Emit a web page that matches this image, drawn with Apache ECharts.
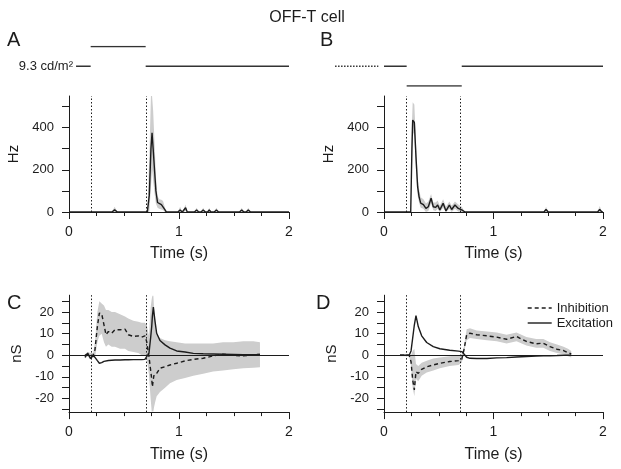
<!DOCTYPE html>
<html><head><meta charset="utf-8">
<script src="https://cdn.jsdelivr.net/npm/echarts@6/dist/echarts.min.js"></script>
<style>html,body{margin:0;padding:0;background:#fff}#c{width:621px;height:469px}</style>
</head><body><div id="c"></div>
<script>
// ---------- tick values ----------
const timeTicksMajor = [0, 1, 2];
const yTicksHz = [0, 100, 200, 300, 400, 500];
const yLabelsHz = [0, 200, 400];
const yTicksNS = [-25, -20, -15, -10, -5, 0, 5, 10, 15, 20, 25];
const yLabelsNS = [-20, -10, 0, 10, 20];
const stimMarks = [0.2, 0.7];

// ---------- Panel A: firing rate ----------
const tA =     [0, 0.39, 0.415, 0.44, 0.712, 0.73, 0.745, 0.755, 0.765, 0.78, 0.79, 0.805, 0.82, 0.84, 0.855, 0.87, 0.885, 0.99, 1.01, 1.03, 1.045, 1.06, 1.075, 1.14, 1.16, 1.18, 1.20, 1.22, 1.24, 1.26, 1.275, 1.29, 1.32, 1.34, 1.36, 1.55, 1.57, 1.59, 1.61, 1.63, 1.65, 2.0];
const rateA =  [0, 0, 10, 0, 0, 80, 300, 376, 300, 180, 100, 45, 38, 35, 30, 12, 0, 0, 10, 0, 5, 20, 0, 0, 10, 0, 0, 10, 0, 0, 10, 0, 0, 10, 0, 0, 10, 0, 0, 10, 0, 0];
const upperA = [0, 0, 25, 0, 0, 260, 550, 550, 480, 300, 170, 75, 60, 58, 52, 25, 0, 0, 25, 0, 15, 35, 0, 0, 20, 0, 0, 20, 0, 0, 20, 0, 0, 20, 0, 0, 20, 0, 0, 20, 0, 0];
const lowerA = [0, 0, 0, 0, 0, 0, 120, 200, 150, 80, 40, 20, 15, 12, 10, 0, 0, 0, 0, 0, 0, 5, 0, 0, 0, 0, 0, 0, 0, 0, 0, 0, 0, 0, 0, 0, 0, 0, 0, 0, 0, 0];

// ---------- Panel B: firing rate ----------
const tB =     [0, 0.244, 0.255, 0.262, 0.277, 0.292, 0.307, 0.32, 0.335, 0.36, 0.383, 0.405, 0.43, 0.45, 0.472, 0.49, 0.51, 0.54, 0.566, 0.597, 0.618, 0.648, 0.678, 0.71, 0.74, 1.46, 1.48, 1.50, 1.95, 1.97, 1.99, 2.0];
const rateB =  [0, 0, 300, 436, 425, 262, 120, 73, 42, 35, 17, 25, 65, 25, 22, 33, 10, 41, 5, 33, 12, 33, 17, 10, 0, 0, 12, 0, 0, 12, 0, 0];
const upperB = [0, 0, 420, 520, 510, 330, 170, 110, 70, 60, 40, 50, 85, 45, 45, 55, 30, 60, 25, 50, 30, 50, 35, 25, 0, 0, 25, 0, 0, 28, 0, 0];
const lowerB = [0, 0, 180, 380, 360, 200, 80, 45, 20, 15, 0, 5, 40, 8, 5, 15, 0, 20, 0, 15, 0, 15, 2, 0, 0, 0, 0, 0, 0, 0, 0, 0];

// ---------- Panel C: conductances ----------
const tC =   [0.145, 0.17, 0.195, 0.22, 0.236, 0.258, 0.276, 0.297, 0.318, 0.336, 0.358, 0.388, 0.418, 0.464, 0.509, 0.539, 0.585, 0.63, 0.66, 0.69, 0.706, 0.727, 0.742, 0.752, 0.758, 0.767, 0.773, 0.782, 0.797, 0.827, 0.873, 0.918, 0.979, 1.055, 1.13, 1.22, 1.31, 1.40, 1.494, 1.585, 1.676, 1.736];
const excC = [-1, 1, -1.5, 0, -1, -2.5, -3.7, -3.4, -2.8, -2.6, -2.4, -2.3, -2.2, -2.2, -2.1, -2.1, -2, -2, -2, -1.9, -1.9, 1, 8, 13.3, 18, 22.3, 19.5, 15.7, 10.2, 6.8, 4.8, 3.3, 2.0, 1.5, 0.9, 0.7, 0.6, 0.5, 0.4, 0.3, 0.3, 0.3];
const inhC = [0, 0.5, -0.5, 0, 2.5, 13.3, 19.5, 19.2, 14.1, 9.5, 11, 10.2, 11.8, 11.8, 12.1, 9.5, 8.7, 9, 8.4, 9, 6.4, -0.6, -6.8, -11, -14.6, -11, -9.1, -9, -8.4, -6, -5.3, -4.5, -3.7, -2.6, -1.9, -1.4, -0.3, 0.5, 0, -0.3, 0.2, 0.5];
const upC =  [0.5, 1.5, 1, 1, 6, 20, 25, 24, 23, 21, 21, 20, 20, 19, 18, 17, 16, 15.5, 15, 15, 14, 9, 22, 26, 27.5, 27.5, 22, 17, 10, 8, 7, 6.5, 6, 5.5, 5.5, 5.5, 5.5, 6, 6, 6.5, 6.5, 6];
const lowC = [-1.5, -0.5, -2, -1, -1, 6, 9, 10, 6, 4, 5, 4, 4, 3, 3, 2, 1.5, 1, 0, 0, -1, -9, -20, -26, -26, -26, -24, -22, -19, -17, -15, -13, -11.5, -10.5, -9.5, -8.5, -7.5, -7, -6.5, -6, -5.8, -5.6];

// ---------- Panel D: conductances ----------
const tD =   [0.146, 0.2, 0.23, 0.247, 0.262, 0.277, 0.292, 0.313, 0.344, 0.39, 0.45, 0.51, 0.6, 0.68, 0.71, 0.73, 0.755, 0.785, 0.846, 0.94, 1.03, 1.12, 1.21, 1.30, 1.39, 1.455, 1.516, 1.58, 1.64, 1.68, 1.71];
const excD = [0, 0, 0, 2, 8, 14, 18.3, 13.3, 9, 5.9, 4, 3, 2.3, 1.9, 1.7, 0.6, -0.9, -1.4, -1.5, -1.5, -1.2, -1.1, -0.8, -0.6, -0.4, -0.3, -0.2, -0.1, 0, 0, 0];
const inhD = [0, 0, 0, -3, -11.5, -16, -7.6, -8.4, -6.5, -5.3, -4.5, -3.7, -2.9, -2.5, -1.9, 2.5, 9.5, 10.2, 9.5, 9, 8.4, 7.4, 8.7, 6.4, 5.3, 5.6, 4, 2.8, 2.2, 1.2, 0.6];
const upD =  [0.5, 0.5, 0.5, 0, 2, 3, -4, -5, -3.5, -2.5, -1.5, -1, -0.5, 0, 0.5, 4, 12, 12.5, 11.5, 11, 10.5, 9.5, 10.5, 8.5, 7.5, 7.5, 6, 5, 4, 3, 2];
const lowD = [-0.5, -0.5, -0.5, -5, -15, -19, -11, -12, -9.5, -8, -7, -6, -5, -4.5, -3.5, 1, 7, 8, 7.5, 7, 6.5, 5.5, 6.5, 4.5, 3.5, 3.5, 2, 1, 0.5, -0.5, -1];

// ---------- Stimulus traces (level: 1 bright, 0 background, -1 dark) ----------
const stimAStart = [0.064, 0.197, 0.697];
const stimAEnd   = [0.197, 0.697, 2.0];
const stimALevel = [0, 1, 0];
const stimBStart = [0, 0.207, 0.71];
const stimBEnd   = [0.207, 0.71, 2.0];
const stimBLevel = [0, -1, 0];
const stimBPreStart = [-0.447];
const stimBPreEnd   = [-0.052];
const stimBPreLevel = [0];

// ---------- chart ----------
const FONT = '"Liberation Sans", Arial, sans-serif';
const INK = '#1c1c1c';
const BAND = '#cdcdcd';
const pairs = (t, v) => t.map((x, i) => [x, v[i]]);

const grids = [
  {left: 69, top: 96, width: 220, height: 116},
  {left: 384, top: 96, width: 219, height: 116},
  {left: 69, top: 295.2, width: 220, height: 116.9},
  {left: 384, top: 295.2, width: 219, height: 116.9},
  {left: 69, top: 46.5, width: 220, height: 39.5},
  {left: 329.25, top: 46.5, width: 273.75, height: 39.5}
];

function timeAxis(gi) {
  return {
    type: 'value', gridIndex: gi, min: 0, max: 2, interval: 1,
    name: 'Time (s)', nameLocation: 'middle', nameGap: 34,
    nameTextStyle: {fontFamily: FONT, fontSize: 16, color: INK},
    axisLine: {show: true, onZero: false, lineStyle: {color: INK, width: 1}},
    axisTick: {show: true, length: 7, lineStyle: {color: INK, width: 1}},
    minorTick: {show: true, splitNumber: 4, length: 4, lineStyle: {color: INK, width: 1}},
    axisLabel: {fontFamily: FONT, fontSize: 14, color: INK, margin: 13},
    splitLine: {show: false}, minorSplitLine: {show: false}
  };
}
function valAxis(gi, name, min, max, ticks, labels, gap) {
  return {
    type: 'value', gridIndex: gi, min: min, max: max,
    name: name, nameLocation: 'middle', nameGap: gap,
    nameTextStyle: {fontFamily: FONT, fontSize: 15, color: INK},
    axisLine: {show: true, onZero: false, lineStyle: {color: INK, width: 1}},
    axisTick: {show: true, length: 7, customValues: ticks, lineStyle: {color: INK, width: 1}},
    axisLabel: {fontFamily: FONT, fontSize: 13, color: INK, margin: 15, customValues: labels},
    splitLine: {show: false}
  };
}
function hiddenAxis(gi, min, max) {
  return {type: 'value', gridIndex: gi, min: min, max: max, show: false,
    axisLine: {show: false}, axisTick: {show: false}, axisLabel: {show: false}, splitLine: {show: false}};
}
function bandSeries(gi, t, up, lo) {
  return {
    type: 'custom', xAxisIndex: gi, yAxisIndex: gi, silent: true, z: 1,
    data: [[t[0], lo[0]]],
    renderItem: function (params, api) {
      const pts = [];
      for (let i = 0; i < t.length; i++) pts.push(api.coord([t[i], up[i]]));
      for (let i = t.length - 1; i >= 0; i--) pts.push(api.coord([t[i], lo[i]]));
      return {type: 'polygon', shape: {points: pts}, style: {fill: BAND, stroke: null}};
    }
  };
}
function markLines(withZero) {
  const d = stimMarks.map(v => ({xAxis: v}));
  if (withZero) d.push({yAxis: 0, lineStyle: {type: 'solid', width: 1, color: INK}});
  return {
    silent: true, symbol: ['none', 'none'], label: {show: false}, animation: false,
    lineStyle: {type: [1.5, 2], width: 1, color: INK},
    emphasis: {disabled: true}, data: d
  };
}
function lineSeries(gi, name, t, v, dashed, ml) {
  const s = {
    type: 'line', name: name, xAxisIndex: gi, yAxisIndex: gi, data: pairs(t, v),
    symbol: 'none', z: 3, silent: true, clip: true,
    lineStyle: {color: INK, width: 1.4, type: dashed ? [4, 3] : 'solid'},
    itemStyle: {color: INK}, emphasis: {disabled: true}
  };
  if (ml) s.markLine = ml;
  return s;
}
function stimSeries(gi, starts, ends, levels, dotted) {
  return starts.map((s, i) => ({
    type: 'line', xAxisIndex: gi, yAxisIndex: gi, symbol: 'none', silent: true,
    data: [[s, levels[i]], [ends[i], levels[i]]],
    lineStyle: {color: '#333', width: 1.3, type: dotted ? [1.5, 1.5] : 'solid'},
    emphasis: {disabled: true}
  }));
}

const series = [
  bandSeries(0, tA, upperA, lowerA),
  lineSeries(0, 'rateA', tA, rateA, false, markLines(false)),
  bandSeries(1, tB, upperB, lowerB),
  lineSeries(1, 'rateB', tB, rateB, false, markLines(false)),
  bandSeries(2, tC, upC, lowC),
  lineSeries(2, 'Inhibition', tC, inhC, true, null),
  lineSeries(2, 'Excitation', tC, excC, false, markLines(true)),
  bandSeries(3, tD, upD, lowD),
  lineSeries(3, 'Inhibition', tD, inhD, true, null),
  lineSeries(3, 'Excitation', tD, excD, false, markLines(true))
].concat(
  stimSeries(4, stimAStart, stimAEnd, stimALevel, false),
  stimSeries(5, stimBStart, stimBEnd, stimBLevel, false),
  stimSeries(5, stimBPreStart, stimBPreEnd, stimBPreLevel, true)
);

const txt = (x, y, text, size, align) => ({
  type: 'text', x: x, y: y, silent: true,
  style: {text: text, fontFamily: FONT, fontSize: size, fill: INK, align: align, verticalAlign: 'middle'}
});

const option = {
  animation: false,
  backgroundColor: '#ffffff',
  grid: grids,
  xAxis: [timeAxis(0), timeAxis(1), timeAxis(2), timeAxis(3), hiddenAxis(4, 0, 2), hiddenAxis(5, -0.5, 2)],
  yAxis: [
    valAxis(0, 'Hz', 0, 550, yTicksHz, yLabelsHz, 48),
    valAxis(1, 'Hz', 0, 550, yTicksHz, yLabelsHz, 48),
    valAxis(2, 'nS', -26.3, 27.8, yTicksNS, yLabelsNS, 45),
    valAxis(3, 'nS', -26.3, 27.8, yTicksNS, yLabelsNS, 45),
    hiddenAxis(4, -1, 1), hiddenAxis(5, -1, 1)
  ],
  legend: {
    data: ['Inhibition', 'Excitation'], orient: 'vertical', left: 527, top: 301,
    itemWidth: 24, itemHeight: 14, itemGap: 1, padding: 0, selectedMode: false,
    itemStyle: {opacity: 0, borderWidth: 0},
    lineStyle: {width: 1.4},
    textStyle: {fontFamily: FONT, fontSize: 13, color: INK, lineHeight: 14}
  },
  graphic: [
    txt(307, 17.5, 'OFF-T cell', 16, 'center'),
    txt(7, 40, 'A', 20, 'left'),
    txt(320, 40, 'B', 20, 'left'),
    txt(7, 303.5, 'C', 20, 'left'),
    txt(316, 303.5, 'D', 20, 'left'),
    txt(73, 66, '9.3 cd/m\u00B2', 13, 'right')
  ],
  series: series
};
const chart = echarts.init(document.getElementById('c'), null, {renderer: 'canvas'});
chart.setOption(option);
</script></body></html>
